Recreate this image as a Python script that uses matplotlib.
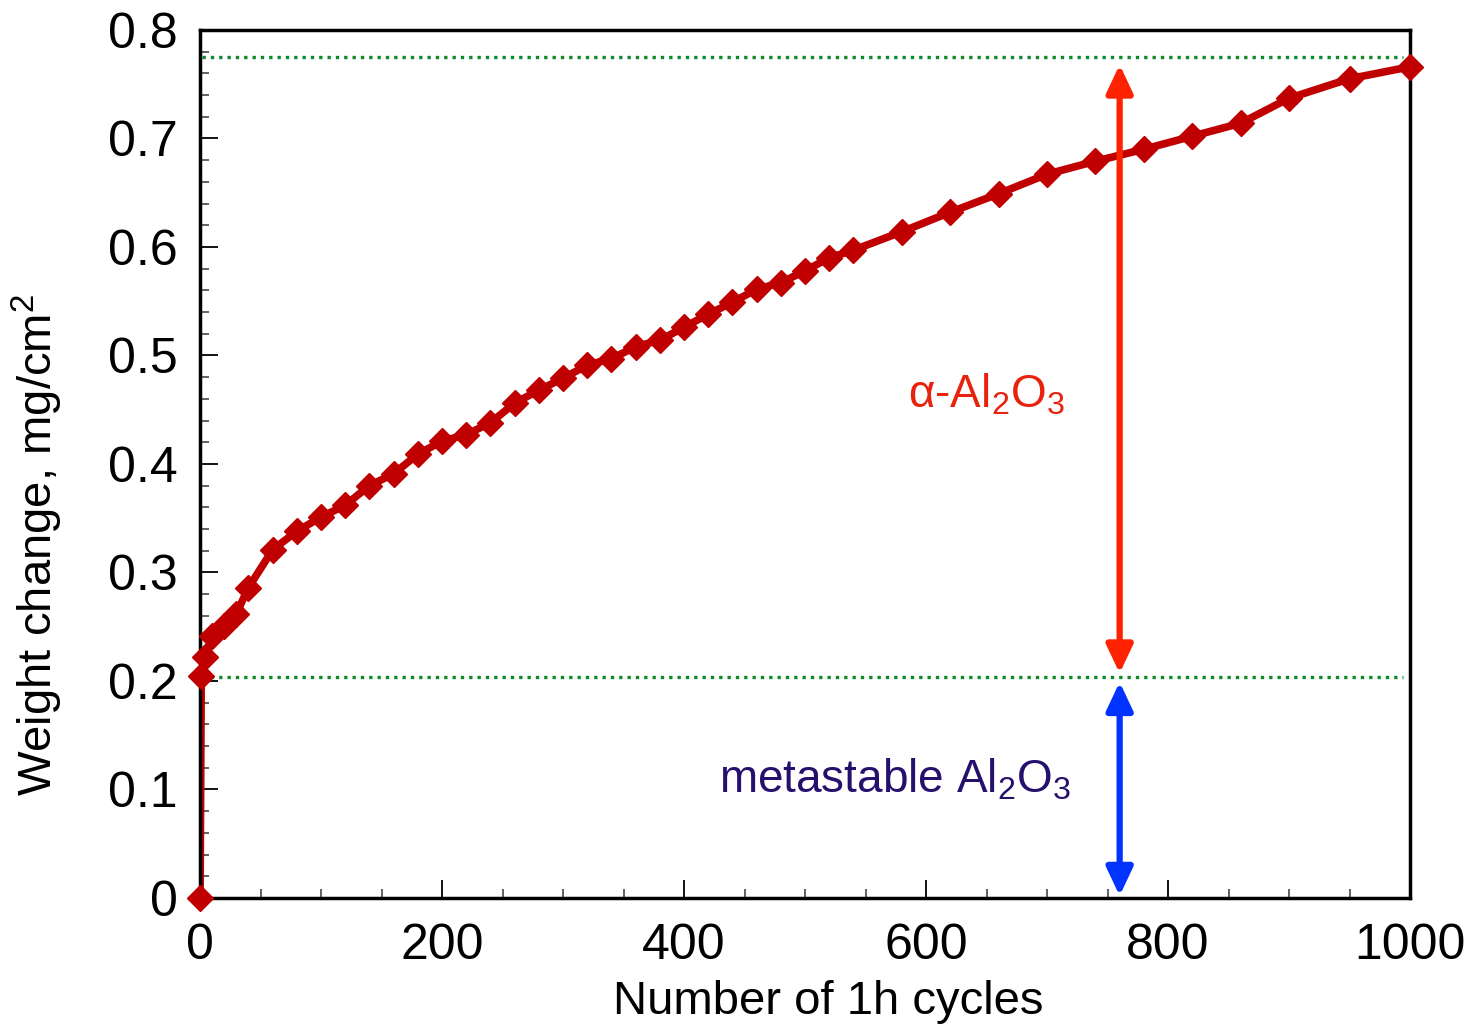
import matplotlib
matplotlib.use("Agg")
import matplotlib.pyplot as plt
from matplotlib.ticker import MultipleLocator, FuncFormatter
from matplotlib.patches import FancyArrowPatch

plt.rcParams['font.family'] = ['Liberation Sans', 'DejaVu Sans']
plt.rcParams['mathtext.fontset'] = 'custom'
plt.rcParams['mathtext.rm'] = 'Liberation Sans'
plt.rcParams['mathtext.it'] = 'Liberation Sans'
plt.rcParams['mathtext.bf'] = 'Liberation Sans:bold'

# cycles vs weight change
cycles = [0, 1, 4, 10, 20, 30, 40, 60, 80, 100, 120, 140, 160, 180, 200,
          220, 240, 260, 280, 300, 320, 340, 360, 380, 400, 420, 440, 460,
          480, 500, 520, 540, 580, 620, 660, 700, 740, 780, 820, 860, 900,
          950, 1000]
weight = [0.0, 0.205, 0.222, 0.241, 0.251, 0.262, 0.286, 0.321, 0.338, 0.351,
          0.362, 0.380, 0.391, 0.409, 0.421, 0.427, 0.438, 0.456, 0.468,
          0.479, 0.491, 0.497, 0.508, 0.514, 0.526, 0.538, 0.549, 0.561,
          0.567, 0.578, 0.590, 0.597, 0.614, 0.632, 0.649, 0.667, 0.679,
          0.690, 0.702, 0.714, 0.737, 0.755, 0.766]

level_meta = 0.204     # end of metastable alumina stage
level_top = 0.775      # final weight gain
arrow_x = 760
red_arrow = (0.207, 0.768)
blue_arrow = (0.002, 0.199)

fig = plt.figure(figsize=(14.83, 10.31), dpi=100)
ax = fig.add_axes([0.1349, 0.129, 0.8159, 0.842])

# data line under the frame, markers above it
ax.plot(cycles, weight, color='#c00000', lw=5.5, zorder=2, solid_joinstyle='round')
ax.plot(cycles, weight, ls='none', marker='D', ms=13.5, color='#c00000',
        zorder=4, clip_on=False)

# green dotted levels
for lvl in (level_meta, level_top):
    ax.plot([2, 994], [lvl, lvl], color='#0e8c2c', lw=2.4,
            ls=(0, (1.0, 1.5)), zorder=3)

# double arrows
for (y0, y1), col in ((red_arrow, '#ff2200'), (blue_arrow, '#0033ff')):
    arr = FancyArrowPatch((arrow_x, y0), (arrow_x, y1),
                          arrowstyle='<|-|>,head_length=17,head_width=8',
                          mutation_scale=1, color=col, lw=4.5,
                          shrinkA=0, shrinkB=0, zorder=3)
    ax.add_patch(arr)

ax.text(650, 0.4516, r'α-Al$_2$O$_3$', color='#e8220c', fontsize=33,
        ha='center', va='baseline')
ax.text(574, 0.0968, r'metastable Al$_2$O$_3$', color='#25106e', fontsize=33,
        ha='center', va='baseline')

ax.set_xlim(0, 1000)
ax.set_ylim(0, 0.8)
ax.xaxis.set_major_locator(MultipleLocator(200))
ax.xaxis.set_minor_locator(MultipleLocator(50))
ax.yaxis.set_major_locator(MultipleLocator(0.1))
ax.yaxis.set_minor_locator(MultipleLocator(0.02))
ax.yaxis.set_major_formatter(FuncFormatter(lambda v, p: '0' if abs(v) < 1e-9 else f'{v:.1f}'))

ax.tick_params(which='both', direction='in', top=False, right=False)
ax.tick_params(which='major', length=13, width=1.3, labelsize=36, color='black')
ax.tick_params(which='minor', length=6.5, width=1.3, color='#555555')
ax.tick_params(axis='y', which='major', pad=16)
ax.tick_params(axis='x', which='major', pad=18)

for sp in ax.spines.values():
    sp.set_linewidth(2.5)
    sp.set_zorder(3)

ax.set_xlabel('Number of 1h cycles', fontsize=34)
ax.set_ylabel('Weight change, mg/cm$^2$', fontsize=34)
ax.xaxis.set_label_coords(0.519, -0.094)
ax.yaxis.set_label_coords(-0.1116, 0.407)

fig.savefig('out.png', dpi=100)
